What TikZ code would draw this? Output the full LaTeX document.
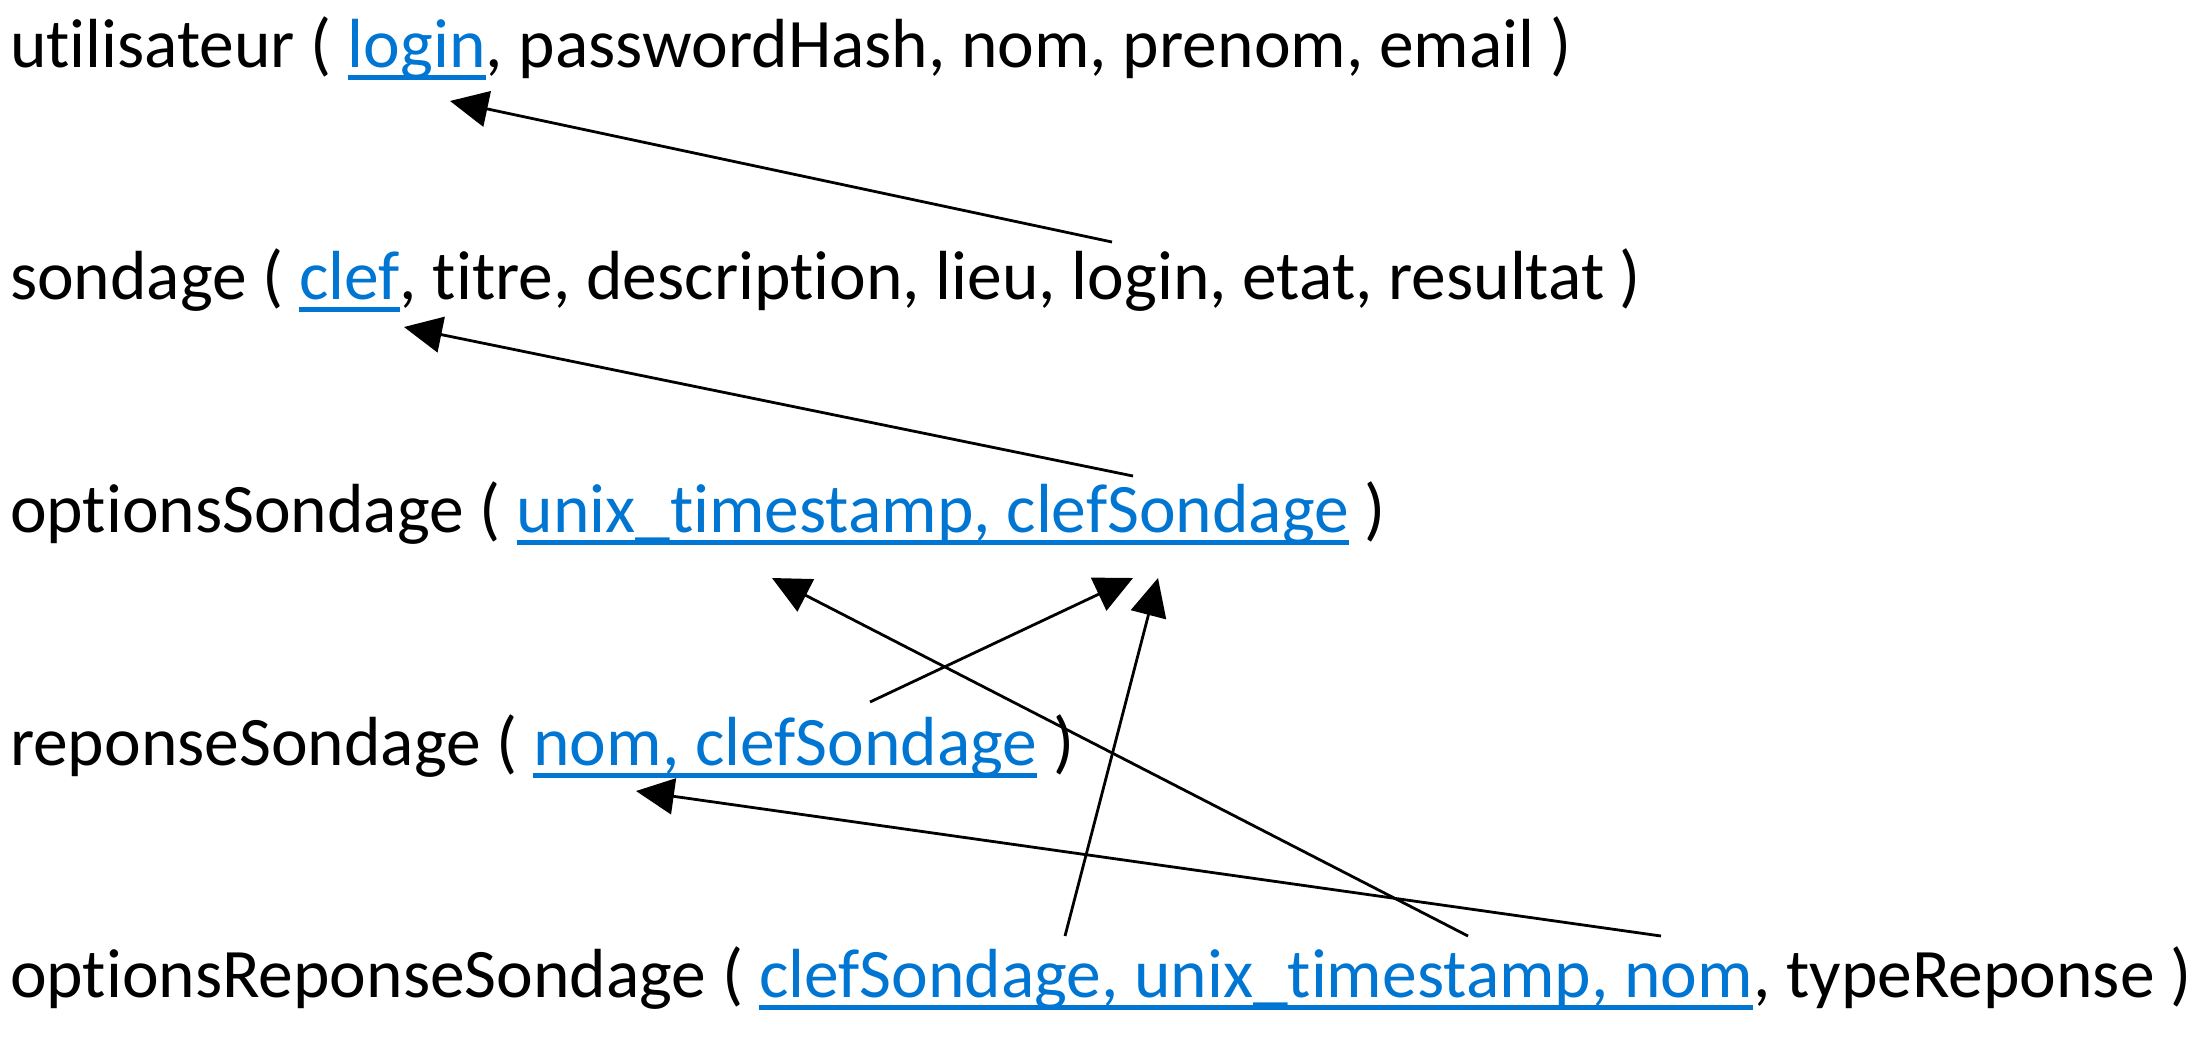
\documentclass[tikz,border=0pt]{standalone}
\usepackage{fontspec}
\setmainfont{Carlito}[Ligatures={NoCommon}]
\usetikzlibrary{arrows.meta}
\definecolor{keyblue}{RGB}{0,118,210}
\tikzset{
  txt/.style={inner sep=0pt, outer sep=0pt, anchor=base west, font=\fontsize{69.5}{82}\selectfont, text=black},
  key/.style={txt, text=keyblue},
  uline/.style={draw=keyblue, line width=5pt},
  fk/.style={draw=black, line width=2.8pt, -{Triangle[length=38pt,width=36pt]}}
}
\begin{document}
\begin{tikzpicture}[x=1pt,y=-1pt]
\useasboundingbox (0,0) rectangle (2207,1039);
% row 1
\node[txt] (r1a) at (10,67) {utilisateur (\ \null};
\node[key] (r1k) at (r1a.base east) {login};
\node[txt] (r1b) at (r1k.base east) {, passwordHash, nom, prenom, email )};
% row 2
\node[txt] (r2a) at (10,299) {sondage (\ \null};
\node[key] (r2k) at (r2a.base east) {clef};
\node[txt] (r2b) at (r2k.base east) {, titre, description, lieu, login, etat, resultat )};
% row 3
\node[txt] (r3a) at (10,532) {optionsSondage (\ \null};
\node[key] (r3k) at (r3a.base east) {unix\_timestamp, clefSondage};
\node[txt] (r3b) at (r3k.base east) {\ )};
% row 4
\node[txt] (r4a) at (10,765) {reponseSondage (\ \null};
\node[key] (r4k) at (r4a.base east) {nom, clefSondage};
\node[txt] (r4b) at (r4k.base east) {\ )};
% row 5
\node[txt] (r5a) at (10,997) {optionsReponseSondage (\ \null};
\node[key] (r5k) at (r5a.base east) {clefSondage, unix\_timestamp, nom};
\node[txt] (r5b) at (r5k.base east) {, typeReponse )};
% underlines
\foreach \k in {r1k,r2k,r3k,r4k,r5k}
  \draw[uline] ([yshift=-10pt]\k.base west) -- ([yshift=-10pt]\k.base east);
% arrow ends
\coordinate (a1s) at (1112,242); \coordinate (a1t) at (450,101);
\coordinate (a2s) at (1133,476); \coordinate (a2t) at (404,327);
\coordinate (a3s) at (870,702);  \coordinate (a3t) at (1133,578);
\coordinate (a4s) at (1065,936); \coordinate (a4t) at (1158,578);
\coordinate (a5s) at (1468,936); \coordinate (a5t) at (772,578);
\coordinate (a6s) at (1661,936); \coordinate (a6t) at (636,791);
\draw[fk] (a1s) -- (a1t);
\draw[fk] (a2s) -- (a2t);
\draw[fk] (a3s) -- (a3t);
\draw[fk] (a4s) -- (a4t);
\draw[fk] (a5s) -- (a5t);
\draw[fk] (a6s) -- (a6t);
\end{tikzpicture}
\end{document}
